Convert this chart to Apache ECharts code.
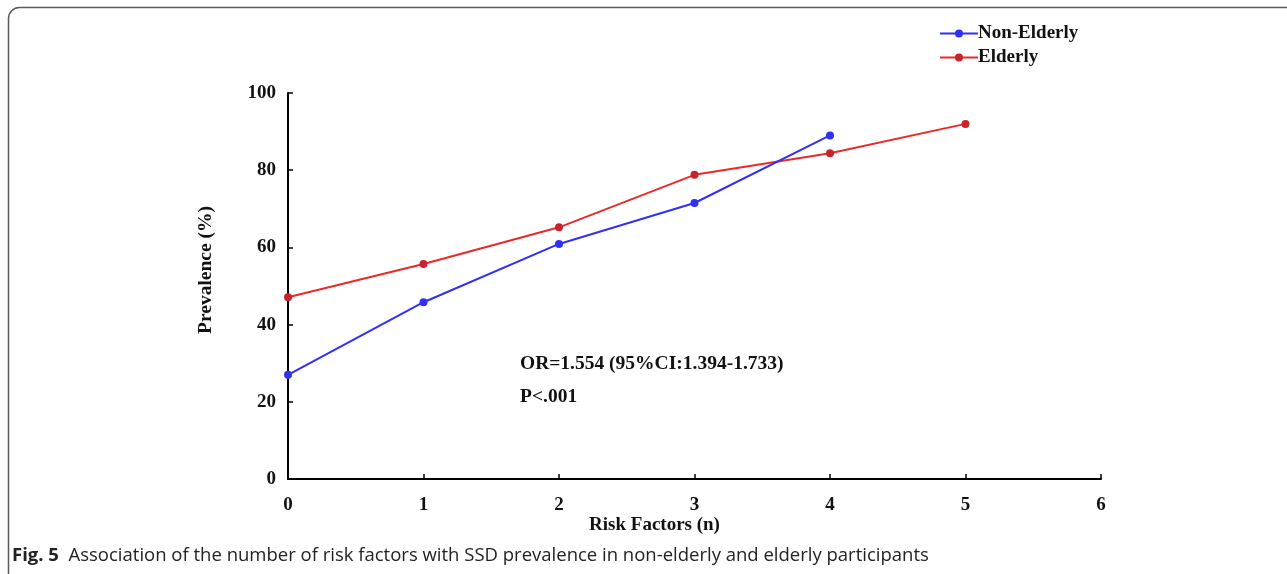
<!DOCTYPE html>
<html><head><meta charset="utf-8">
<script src="https://cdn.jsdelivr.net/npm/echarts@6/dist/echarts.min.js"></script>
<style>html,body{margin:0;padding:0;background:#fff;}#c{width:1287px;height:574px;}</style>
</head><body><div id="c"></div>
<script>
const riskFactors = [0, 1, 2, 3, 4, 5];
const nonElderly = [27.0, 45.8, 60.9, 71.5, 89.0];
const elderly = [47.1, 55.7, 65.2, 78.8, 84.4, 92.0];
const xTicks = [0, 1, 2, 3, 4, 5, 6];
const yTicks = [0, 20, 40, 60, 80, 100];

const serif = '"Liberation Serif", "Times New Roman", serif';
const chart = echarts.init(document.getElementById('c'));
chart.setOption({
  animation: false,
  backgroundColor: '#fff',
  grid: { left: 288, right: 186, top: 93, bottom: 95 },
  legend: {
    orient: 'vertical', left: 934, top: 19, itemWidth: 38, itemHeight: 10, itemGap: 5,
    textStyle: { fontFamily: serif, fontWeight: 'bold', fontSize: 19, color: '#111', padding: [0,0,0,-5] },
    data: ['Non-Elderly', 'Elderly']
  },
  xAxis: {
    type: 'value', min: xTicks[0], max: xTicks[xTicks.length-1], interval: 1,
    name: 'Risk Factors (n)', nameLocation: 'middle', nameGap: 37, nameMoveOverlap: false,
    nameTextStyle: { fontFamily: serif, fontWeight: 'bold', fontSize: 19, color: '#111', padding: [0,80,0,0] },
    axisLine: { lineStyle: { color: '#000', width: 2 } },
    axisTick: { inside: true, length: 5, lineStyle: { color: '#000', width: 1.5 } },
    axisLabel: { fontFamily: serif, fontWeight: 'bold', fontSize: 19, color: '#111', margin: 17 },
    splitLine: { show: false }
  },
  yAxis: {
    type: 'value', min: yTicks[0], max: yTicks[yTicks.length-1], interval: 20,
    name: 'Prevalence (%)', nameLocation: 'middle', nameGap: 72, nameRotate: 90, nameMoveOverlap: false,
    nameTextStyle: { fontFamily: serif, fontWeight: 'bold', fontSize: 19.5, color: '#111', padding: [0,0,0,32] },
    axisLine: { show: true, lineStyle: { color: '#000', width: 2 } },
    axisTick: { show: true, inside: true, length: 5, lineStyle: { color: '#000', width: 1.5 } },
    axisLabel: { fontFamily: serif, fontWeight: 'bold', fontSize: 19, color: '#111', margin: 12 },
    splitLine: { show: false }
  },
  series: [
    { name: 'Non-Elderly', type: 'line', data: nonElderly.map((v,i)=>[riskFactors[i], v]),
      color: '#3030f5', lineStyle: { width: 2 }, symbol: 'circle', symbolSize: 8,
      itemStyle: { color: '#3030f5' }, z: 3 },
    { name: 'Elderly', type: 'line', data: elderly.map((v,i)=>[riskFactors[i], v]),
      color: '#e82a2a', lineStyle: { width: 2, color: '#e82a2a' }, symbol: 'circle', symbolSize: 8,
      itemStyle: { color: '#c8222a' }, z: 2 }
  ],
  graphic: [
    { type: 'rect', shape: { x: 8.5, y: 7.5, width: 1400, height: 700, r: 11 }, style: { fill: null, stroke: '#5a5a5a', lineWidth: 1.5 }, silent: true },
    { type: 'text', left: 520, top: 354, style: { text: 'OR=1.554 (95%CI:1.394-1.733)', font: 'bold 19.5px ' + serif, fill: '#111' } },
    { type: 'text', left: 520, top: 387, style: { text: 'P<.001', font: 'bold 19.5px ' + serif, fill: '#111' } },
    { type: 'text', left: 12, top: 546, style: { rich: { b: { font: 'bold 18.5px "Open Sans", "Noto Sans", sans-serif', fill: '#222' }, n: { font: '18.5px "Open Sans", "Noto Sans", sans-serif', fill: '#222' } }, text: '{b|Fig. 5}{n|  Association of the number of risk factors with SSD prevalence in non-elderly and elderly participants}' } }
  ]
});
</script></body></html>
